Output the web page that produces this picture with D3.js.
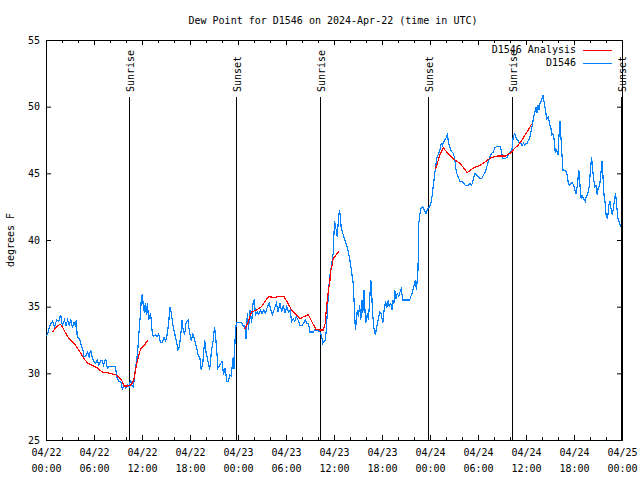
<!DOCTYPE html>
<html><head><meta charset="utf-8">
<script src="https://cdn.jsdelivr.net/npm/d3@7"></script>
<style>
html,body{margin:0;padding:0;background:#fff;}
text{font-family:"DejaVu Sans Mono",monospace;font-size:10px;fill:#000;}
</style></head>
<body><svg id="c" width="640" height="480"></svg>
<script>
// ---- data (hours since 2024-04-22 00:00 UTC, degrees F) ----
const obsHours = [0,0.17,0.5,0.8,1.08,1.33,1.6,1.83,2.04,2.3,2.5,2.7,2.9,3.1,3.3,3.5,3.65,3.8,3.9,4.25,4.46,4.67,4.75,4.95,5.2,5.4,5.58,5.8,6.0,6.2,6.4,6.6,6.8,7.0,7.2,7.46,7.67,7.9,8.3,8.7,8.83,9.1,9.35,9.54,9.75,9.95,10.2,10.4,10.58,10.75,10.9,11.08,11.2,11.3,11.5,11.7,11.83,11.9,12.04,12.17,12.33,12.4,12.55,12.67,12.83,12.95,13.08,13.25,13.4,13.65,13.9,14.08,14.3,14.55,14.75,14.96,15.1,15.33,15.5,15.67,15.83,16.08,16.3,16.5,16.65,16.83,17.0,17.15,17.33,17.5,17.75,17.9,18.17,18.35,18.55,18.8,19.0,19.25,19.4,19.6,19.83,20.0,20.25,20.45,20.67,20.9,21.08,21.25,21.5,21.7,22.0,22.2,22.4,22.6,22.8,22.96,23.15,23.4,23.5,23.67,23.8,24.46,24.6,24.75,24.85,25.0,25.17,25.3,25.5,25.7,25.9,26.0,26.2,26.4,26.6,26.8,27.0,27.2,27.45,27.67,27.9,28.1,28.3,28.5,28.7,28.8,29.0,29.25,29.45,29.67,29.9,30.1,30.3,30.5,30.7,30.9,31.1,31.3,31.5,31.75,32.0,32.2,32.4,32.6,32.8,33.0,33.4,33.6,33.8,34.0,34.25,34.46,34.6,34.9,35.04,35.25,35.46,35.67,35.9,36.0,36.08,36.2,36.3,36.4,36.58,36.7,36.8,36.9,37.1,37.3,37.5,37.75,37.96,38.17,38.4,38.5,38.58,38.67,38.8,38.92,39.05,39.2,39.35,39.5,39.6,39.75,39.85,39.96,40.17,40.3,40.46,40.6,40.7,40.8,40.96,41.17,41.35,41.6,41.7,41.9,42.1,42.2,42.46,42.6,42.8,42.9,43.1,43.25,43.35,43.5,43.6,43.75,43.9,44.1,44.25,44.4,44.6,45.46,45.8,46.0,46.17,46.3,46.4,46.5,46.6,46.75,46.9,47.1,47.3,47.5,47.7,47.9,48.1,48.25,48.4,48.6,48.75,48.9,49.1,49.25,49.4,49.55,49.75,49.96,50.17,50.3,50.45,50.6,50.75,50.9,51.1,51.25,51.4,51.6,51.75,51.96,52.2,52.4,52.8,53.0,53.2,53.35,53.5,53.65,53.8,54.0,54.25,54.45,54.7,54.9,55.1,55.3,55.5,55.7,55.9,56.1,56.3,56.75,56.9,57.1,57.3,57.5,57.7,57.85,58.1,58.25,58.4,58.6,58.8,58.96,59.15,59.3,59.5,59.7,59.85,60.0,60.15,60.3,60.45,60.6,60.8,60.96,61.1,61.3,61.4,61.5,61.65,61.75,61.96,62.1,62.25,62.46,62.6,62.8,62.96,63.1,63.2,63.35,63.5,63.6,63.65,63.8,64.0,64.1,64.25,64.35,64.45,64.6,64.75,64.96,65.1,65.3,65.45,65.6,65.8,65.95,66.1,66.25,66.4,66.5,66.6,66.75,66.9,67.05,67.2,67.4,67.55,67.7,67.9,68.05,68.2,68.3,68.45,68.6,68.75,68.9,69.05,69.2,69.4,69.5,69.6,69.75,69.9,70.0,70.2,70.35,70.5,70.65,70.8,71.0,71.2,71.35,71.5,71.7,71.85];
const obsValues = [32.8,32.9,33.6,33.9,33.5,34.0,33.9,34.4,33.6,34.0,33.6,34.0,33.6,34.0,33.5,33.8,33.6,34.0,32.75,32.5,32.0,31.6,31.25,31.3,31.6,31.25,31.75,31.1,30.87,30.75,31.0,30.6,30.9,31.0,30.6,31.1,30.4,30.5,30.5,30.5,29.75,29.4,29.4,28.8,29.1,28.9,29.1,29.0,29.5,29.1,29.0,29.75,30.6,30.75,32.0,33.75,34.6,35.5,35.95,35.0,34.5,35.25,34.4,35.25,34.0,34.2,34.5,33.25,32.75,32.9,32.75,32.95,32.3,32.3,32.7,32.4,32.75,33.75,35.0,34.5,33.75,33.0,32.4,31.75,32.0,32.75,34.0,33.25,32.9,33.75,34.0,33.25,32.4,33.0,32.6,32.0,31.4,31.1,30.25,30.75,32.5,31.6,30.9,30.25,31.6,32.5,33.5,32.4,30.4,30.6,30.9,29.9,30.4,29.4,29.4,29.9,29.8,31.25,30.3,33.1,33.8,33.8,33.6,33.5,33.6,32.6,34.5,33.25,34.75,33.75,35.4,35.5,34.4,34.6,34.4,34.75,34.5,34.75,34.5,35.0,35.25,34.75,34.4,34.75,35.1,35.25,34.6,35.25,34.6,35.1,34.5,35.0,34.6,34.75,33.9,34.1,33.9,34.25,34.0,33.6,33.6,33.75,34.0,33.75,33.75,33.1,33.1,33.25,33.2,33.2,33.1,32.75,32.25,32.5,33.25,35.5,37.25,38.0,39.0,40.5,41.4,40.9,40.75,40.25,41.75,42.25,41.75,40.9,40.5,40.1,39.75,39.25,38.6,37.75,36.75,35.5,34.5,33.25,34.0,34.75,34.25,35.1,34.0,35.5,34.5,36.25,35.0,33.75,34.5,34.0,35.5,37.0,36.25,34.75,33.5,32.9,33.5,34.25,34.6,34.5,33.75,34.5,35.4,34.9,35.5,35.0,35.25,34.75,35.5,35.25,36.25,35.6,36.0,35.75,36.1,36.3,35.5,35.5,36.1,36.6,37.0,36.25,37.0,37.75,41.25,42.0,42.4,42.5,42.25,42.0,42.3,42.45,42.75,43.25,44.0,45.0,45.75,46.25,46.5,46.75,47.25,47.1,47.4,47.6,47.9,47.4,47.0,46.75,46.6,46.5,46.1,45.25,44.9,44.6,44.4,44.4,44.25,44.1,44.1,44.25,44.1,44.4,44.75,45.0,44.9,44.75,44.6,44.6,44.9,45.1,45.5,45.9,46.25,46.5,46.6,46.9,47.0,47.0,46.75,46.1,46.1,46.15,46.25,46.5,46.6,46.8,47.75,48.0,47.6,47.5,47.25,47.3,47.1,47.25,47.1,47.25,47.25,47.5,47.6,48.1,48.6,49.25,49.6,50.0,49.5,50.1,49.75,50.25,50.5,50.9,50.4,49.6,49.1,49.25,48.6,48.5,47.9,48.0,47.6,47.0,46.6,46.75,46.4,47.6,48.9,47.9,46.9,45.25,45.25,45.2,45.0,44.25,44.1,44.25,44.3,44.1,43.75,43.5,44.0,44.6,45.25,44.1,43.1,43.3,43.1,42.9,43.3,43.4,44.0,45.2,46.25,45.5,44.6,44.0,44.1,43.4,44.0,44.0,45.25,45.9,45.0,43.4,42.75,41.9,41.6,42.6,42.9,42.25,41.9,42.75,43.5,42.5,41.6,41.25,41.0];

// analysis (three separate pieces)
const anaHours1 = [0.8,1.2,1.75,2.04,2.46,2.9,3.5,4.1,4.75,5.25,5.8,6.4,7.04,7.67,8.3,8.7,9.1,9.54,9.75,10.17,10.5,10.8,11.0,11.3,11.5,11.7,11.9,12.1,12.3,12.5,12.75];
const anaValues1 = [33.1,33.4,33.7,33.5,33.0,32.6,32.25,31.75,31.1,30.75,30.6,30.4,30.1,30.05,29.95,29.9,29.7,29.4,29.05,29.05,29.1,29.25,29.6,30.6,31.1,31.6,31.9,32.0,32.1,32.3,32.45];
const anaHours2 = [24.8,25.0,25.3,25.5,25.7,26.3,26.96,27.4,27.8,28.4,29.25,29.75,30.1,30.7,31.3,31.75,32.2,32.8,33.2,33.75,34.25,34.67,34.9,35.0,35.17,35.3,35.46,35.6,35.75,35.9,36.17,36.4,36.67];
const anaValues2 = [33.3,33.5,33.9,34.3,34.6,34.75,35.0,35.4,35.75,35.7,35.75,35.75,35.4,34.75,34.4,34.1,34.25,34.4,33.9,33.3,33.25,33.25,33.75,34.5,35.5,36.25,36.75,37.75,38.1,38.6,38.8,39.0,39.2];
const anaHours3 = [48.7,49.04,49.3,49.67,50.1,50.9,51.75,52.67,53.4,54.25,55.1,55.7,56.5,57.4,58.0,58.4,58.8,59.0,59.5,59.9,60.3,60.7];
const anaValues3 = [45.3,46.0,46.5,46.9,46.6,46.1,45.75,45.05,45.4,45.6,45.95,46.2,46.3,46.3,46.5,46.75,47.0,47.1,47.5,47.9,48.25,48.7];

const sunEvents = ["Sunrise","Sunset","Sunrise","Sunset","Sunrise","Sunset"];
const sunHours = [10.38,23.81,34.25,47.79,58.29,71.88];

const yTicks = [25,30,35,40,45,50,55];
const xTickHours = [0,6,12,18,24,30,36,42,48,54,60,66,72];
const titleText = "Dew Point for D1546 on 2024-Apr-22 (time in UTC)";
const yLabel = "degrees F";
const seriesNames = ["D1546 Analysis","D1546"];
const seriesColors = ["#ff0000","#0080ff"];

// ---- drawing ----
const T0 = Date.UTC(2024,3,22,0,0);
const H = 3600*1000;
const t = h => new Date(T0 + h*H);
const L=46, R=622, TOP=40, BOT=440;
const x = d3.scaleUtc().domain([t(0), t(72)]).range([L,R]);
const y = d3.scaleLinear().domain([25,55]).range([BOT,TOP]);
const svg = d3.select("#c");
svg.append("rect").attr("width",640).attr("height",480).attr("fill","#fff");

const fmtD = d3.utcFormat("%m/%d"), fmtT = d3.utcFormat("%H:%M");

// bottom axis
const gx = svg.append("g").attr("transform",`translate(0,${BOT})`)
  .call(d3.axisBottom(x).tickValues(xTickHours.map(t)).tickSize(-5).tickPadding(9).tickFormat(""));
gx.selectAll(".tick text").each(function(d){
  const s=d3.select(this);
  s.append("tspan").attr("x",0).attr("dy","0.71em").text(fmtD(d));
  s.append("tspan").attr("x",0).attr("dy","1.6em").text(fmtT(d));
});
// minor ticks
const minorH = d3.range(0,73,2).filter(h=>h%6!==0);
svg.append("g").selectAll("line").data(minorH).join("line")
  .attr("x1",d=>Math.round(x(t(d)))+0.5).attr("x2",d=>Math.round(x(t(d)))+0.5)
  .attr("y1",BOT).attr("y2",BOT-3).attr("stroke","#000");
svg.append("g").selectAll("line").data(minorH).join("line")
  .attr("x1",d=>Math.round(x(t(d)))+0.5).attr("x2",d=>Math.round(x(t(d)))+0.5)
  .attr("y1",TOP).attr("y2",TOP+3).attr("stroke","#000");
// top axis
svg.append("g").attr("transform",`translate(0,${TOP})`)
  .call(d3.axisTop(x).tickValues(xTickHours.map(t)).tickSize(-5).tickFormat(""));
// left axis
svg.append("g").attr("transform",`translate(${L},0)`)
  .call(d3.axisLeft(y).tickValues(yTicks).tickSize(-5).tickPadding(6).tickFormat(d3.format("d")));
// right axis
svg.append("g").attr("transform",`translate(${R},0)`)
  .call(d3.axisRight(y).tickValues(yTicks).tickSize(-5).tickFormat(""));
svg.selectAll(".domain").remove();
svg.selectAll(".tick line").attr("stroke","#000");
svg.selectAll(".tick text").attr("font-family",null).attr("font-size",null);
svg.append("rect").attr("x",L+0.5).attr("y",TOP+0.5).attr("width",R-L).attr("height",BOT-TOP)
  .attr("fill","none").attr("stroke","#000");

// sunrise/sunset
const sg = svg.append("g");
sunHours.forEach((h,i)=>{
  const px = Math.round(x(t(h)))+0.5;
  sg.append("line").attr("x1",px).attr("x2",px).attr("y1",97).attr("y2",BOT).attr("stroke","#000");
  sg.append("text").attr("transform",`translate(${px+1},92) rotate(-90)`)
    .attr("dominant-baseline","central").text(sunEvents[i]);
});

// lines
const line = d3.line().x(d=>x(t(d[0]))).y(d=>y(d[1]));
const obs = obsHours.map((h,i)=>[h,obsValues[i]]);
svg.append("path").datum(obs).attr("d",line).attr("fill","none").attr("stroke",seriesColors[1])
  .attr("stroke-width",1.2).attr("shape-rendering","crispEdges");
[[anaHours1,anaValues1],[anaHours2,anaValues2],[anaHours3,anaValues3]].forEach(([hh,vv])=>{
  svg.append("path").datum(hh.map((h,i)=>[h,vv[i]])).attr("d",line)
    .attr("fill","none").attr("stroke",seriesColors[0]).attr("stroke-width",1.2).attr("shape-rendering","crispEdges");
});

// title, labels
svg.append("text").attr("x",333).attr("y",20).attr("text-anchor","middle").attr("dominant-baseline","central").text(titleText);
svg.append("text").attr("transform","translate(10,240) rotate(-90)").attr("text-anchor","middle").attr("dominant-baseline","central").text(yLabel);

// legend
seriesNames.forEach((n,i)=>{
  const ly = 49.5 + i*13;
  svg.append("text").attr("x",576).attr("y",ly).attr("text-anchor","end").attr("dominant-baseline","central").text(n);
  svg.append("line").attr("x1",583).attr("x2",612).attr("y1",Math.round(ly)+0.5).attr("y2",Math.round(ly)+0.5).attr("stroke",seriesColors[i]);
});
</script></body></html>
